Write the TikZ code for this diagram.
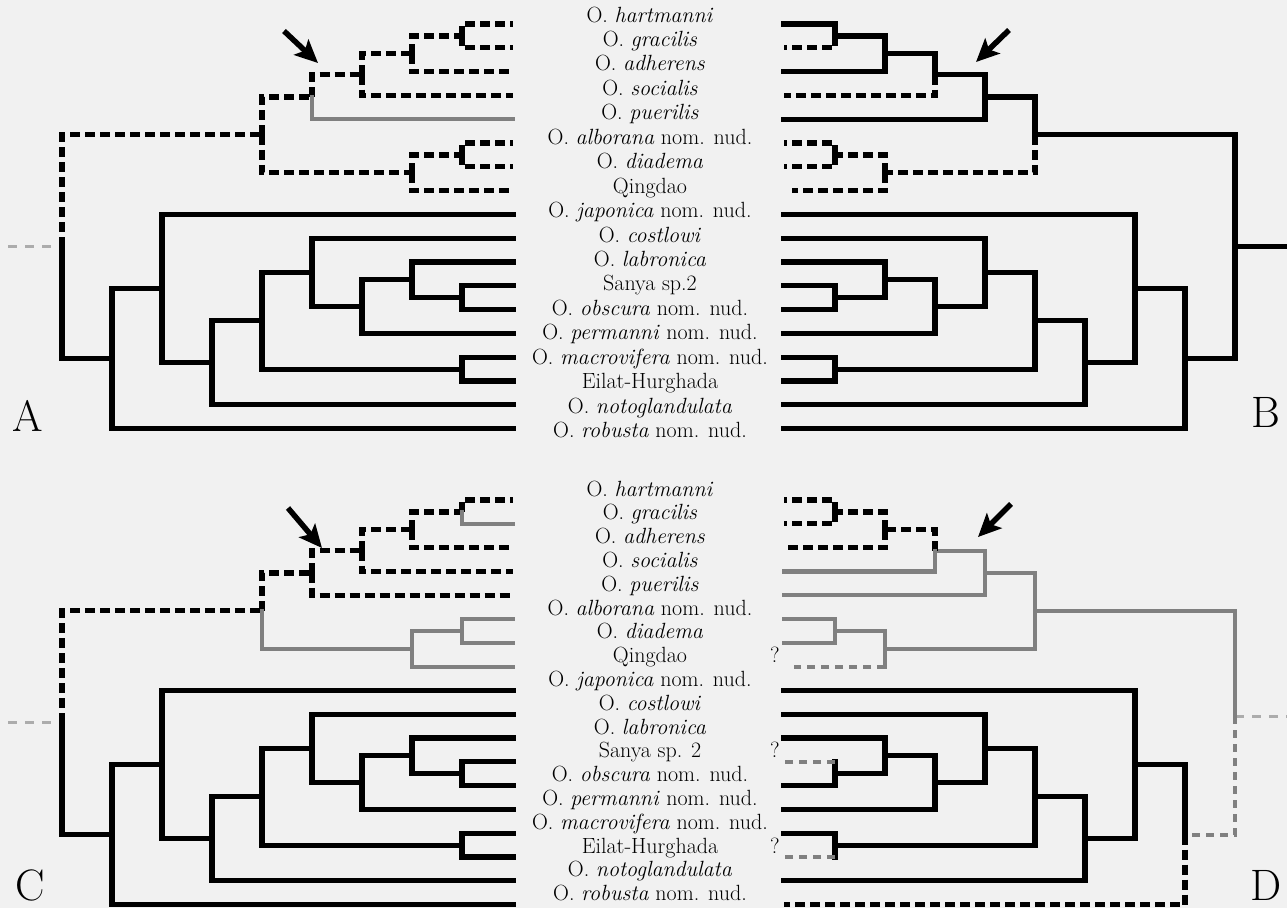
\documentclass[tikz,border=0pt]{standalone}
\usepackage{fontspec}
\usetikzlibrary{arrows.meta}
\definecolor{bgc}{RGB}{241,241,241}
\definecolor{gline}{RGB}{128,128,128}
\definecolor{gstem}{RGB}{172,172,172}
\tikzset{
 blk/.style={line width=5.2pt, draw=black, line cap=rect},
 dsh/.style={line width=5.2pt, draw=black, dash pattern=on 10pt off 5pt},
 gry/.style={line width=4.2pt, draw=gline, line cap=rect},
 gdsh/.style={line width=4.2pt, draw=gline, dash pattern=on 8pt off 6pt},
 stemline/.style={line width=3pt, draw=gstem, dash pattern=on 9pt off 8pt},
 bigarr/.style={line width=5.5pt, draw=black, -{Stealth[length=23pt,width=21pt,inset=5pt]}},
 lab/.style={font=\fontsize{22}{24}\selectfont, anchor=base, inner sep=0pt},
 letter/.style={font=\fontsize{44}{50}\selectfont, inner sep=0pt},
}
\newcommand\TreeCoords[2]{%
 \coordinate (#1l0) at (#2 513,24.0);
 \coordinate (#1l1) at (#2 513,47.8);
 \coordinate (#1l2) at (#2 513,71.6);
 \coordinate (#1l3) at (#2 513,95.4);
 \coordinate (#1l4) at (#2 513,119.2);
 \coordinate (#1l5) at (#2 513,143.0);
 \coordinate (#1l6) at (#2 513,166.8);
 \coordinate (#1l7) at (#2 513,190.6);
 \coordinate (#1l8) at (#2 513,214.4);
 \coordinate (#1l9) at (#2 513,238.2);
 \coordinate (#1l10) at (#2 513,262.0);
 \coordinate (#1l11) at (#2 513,285.8);
 \coordinate (#1l12) at (#2 513,309.6);
 \coordinate (#1l13) at (#2 513,333.4);
 \coordinate (#1l14) at (#2 513,357.2);
 \coordinate (#1l15) at (#2 513,381.0);
 \coordinate (#1l16) at (#2 513,404.8);
 \coordinate (#1l17) at (#2 513,428.6);
 \coordinate (#1n01) at (#2 462,35.9);
 \coordinate (#1n012) at (#2 412,53.75);
 \coordinate (#1n0123) at (#2 362,74.6);
 \coordinate (#1n01234) at (#2 312,96.9);
 \coordinate (#1n56) at (#2 462,154.9);
 \coordinate (#1n567) at (#2 412,172.75);
 \coordinate (#1nU) at (#2 262,134.8);
 \coordinate (#1n1112) at (#2 462,297.7);
 \coordinate (#1n1012) at (#2 412,279.85);
 \coordinate (#1n1013) at (#2 362,306.6);
 \coordinate (#1n913) at (#2 312,272.4);
 \coordinate (#1n1415) at (#2 462,369.1);
 \coordinate (#1n915) at (#2 262,320.75);
 \coordinate (#1n916) at (#2 212,362.8);
 \coordinate (#1n816) at (#2 162,288.6);
 \coordinate (#1n817) at (#2 112,358.6);
 \coordinate (#1root) at (#2 62,246.7);
}
\newcommand\LowerSolid[1]{%
 \draw[blk] (#1n817) |- (#1n816);
 \draw[blk] (#1n816) |- (#1l8);
 \draw[blk] (#1n816) |- (#1n916);
 \draw[blk] (#1n916) |- (#1n915);
 \draw[blk] (#1n916) |- (#1l16);
 \draw[blk] (#1n915) |- (#1n913);
 \draw[blk] (#1n915) |- (#1n1415);
 \draw[blk] (#1n913) |- (#1l9);
 \draw[blk] (#1n913) |- (#1n1013);
 \draw[blk] (#1n1013) |- (#1n1012);
 \draw[blk] (#1n1013) |- (#1l13);
 \draw[blk] (#1n1012) |- (#1l10);
 \draw[blk] (#1n1012) |- (#1n1112);
 \draw[blk] (#1n1112) |- (#1l12);
 \draw[blk] (#1n1415) |- (#1l14);
}
% #1 prefix, #2 Sanya text, #3 first baseline, #4 row step
\newcommand\TaxonLabels[4]{%
 \node[lab] (#1t0) at (650,{#3+0*#4}) {O. \textit{hartmanni}};
 \node[lab] (#1t1) at (650,{#3+1*#4}) {O. \textit{gracilis}};
 \node[lab] (#1t2) at (650,{#3+2*#4}) {O. \textit{adherens}};
 \node[lab] (#1t3) at (650,{#3+3*#4}) {O. \textit{socialis}};
 \node[lab] (#1t4) at (650,{#3+4*#4}) {O. \textit{puerilis}};
 \node[lab] (#1t5) at (650,{#3+5*#4}) {O. \textit{alborana} nom. nud.};
 \node[lab] (#1t6) at (650,{#3+6*#4}) {O. \textit{diadema}};
 \node[lab] (#1t7) at (650,{#3+7*#4}) {Qingdao};
 \node[lab] (#1t8) at (650,{#3+8*#4}) {O. \textit{japonica} nom. nud.};
 \node[lab] (#1t9) at (650,{#3+9*#4}) {O. \textit{costlowi}};
 \node[lab] (#1t10) at (650,{#3+10*#4}) {O. \textit{labronica}};
 \node[lab] (#1t11) at (650,{#3+11*#4}) {#2};
 \node[lab] (#1t12) at (650,{#3+12*#4}) {O. \textit{obscura} nom. nud.};
 \node[lab] (#1t13) at (650,{#3+13*#4}) {O. \textit{permanni} nom. nud.};
 \node[lab] (#1t14) at (650,{#3+14*#4}) {O. \textit{macrovifera} nom. nud.};
 \node[lab] (#1t15) at (650,{#3+15*#4}) {Eilat-Hurghada};
 \node[lab] (#1t16) at (650,{#3+16*#4}) {O. \textit{notoglandulata}};
 \node[lab] (#1t17) at (650,{#3+17*#4}) {O. \textit{robusta} nom. nud.};
}
\begin{document}
\begin{tikzpicture}[x=1pt,y=-1pt]
\fill[bgc] (0,0) rectangle (1287,908);
\useasboundingbox (0,0) rectangle (1287,908);

% ================= TOP: A and B =================
\begin{scope}
\TreeCoords{a}{0+}
\TreeCoords{b}{1297-}
\coordinate (bl7) at (792,190.6);
\coordinate (astem) at (8,246.7);
\coordinate (bstem) at (1292,246.7);
\coordinate (aarT) at (284,31);
\coordinate (aarH) at (318,63);
\coordinate (barT) at (1009,30);
\coordinate (barH) at (976,62);

\TaxonLabels{top}{Sanya sp.2}{22}{24.45}

% stem A
\draw[stemline] (astem) -- (aroot);
% tree A
\draw[dsh] (aroot) |- (anU);
\draw[blk] (aroot) |- (an817);
\draw[dsh] (anU) |- (an01234);
\draw[dsh] (anU) |- (an567);
\draw[dsh] (an01234) |- (an0123);
\draw[gry] (an01234) |- (al4);
\draw[dsh] (an0123) |- (an012);
\draw[dsh] (an0123) |- (al3);
\draw[dsh] (an012) |- (an01);
\draw[dsh] (an012) |- (al2);
\draw[dsh] (an01) |- (al0);
\draw[dsh] (an01) |- (al1);
\draw[dsh] (an567) |- (an56);
\draw[dsh] (an567) |- (al7);
\draw[dsh] (an56) |- (al5);
\draw[dsh] (an56) |- (al6);
\LowerSolid{a}
\draw[blk] (an817) |- (al17);
\draw[blk] (an1112) |- (al11);
\draw[blk] (an1415) |- (al15);

% tree B
\draw[blk] (broot) -- (bstem);
\draw[blk] (broot) |- (bnU);
\draw[blk] (broot) |- (bn817);
\draw[blk] (bnU) |- (bn01234);
\draw[dsh] (bnU) |- (bn567);
\draw[blk] (bn01234) |- (bn0123);
\draw[blk] (bn01234) |- (bl4);
\draw[blk] (bn0123) |- (bn012);
\draw[dsh] (bn0123) |- (bl3);
\draw[blk] (bn012) |- (bn01);
\draw[blk] (bn012) |- (bl2);
\draw[blk] (bn01) |- (bl0);
\draw[dsh] (bn01) |- (bl1);
\draw[dsh] (bn567) |- (bn56);
\draw[dsh] (bn567) |- (bl7);
\draw[dsh] (bn56) |- (bl5);
\draw[dsh] (bn56) |- (bl6);
\LowerSolid{b}
\draw[blk] (bn817) |- (bl17);
\draw[blk] (bn1112) |- (bl11);
\draw[blk] (bn1415) |- (bl15);

\draw[bigarr] (aarT) -- (aarH);
\draw[bigarr] (barT) -- (barH);
\node[letter] (labA) at (28,416) {A};
\node[letter] (labB) at (1266,412) {B};
\end{scope}

% ================= BOTTOM: C and D =================
\begin{scope}[shift={(0,476)}]
\TreeCoords{c}{0+}
\TreeCoords{d}{1297-}
\coordinate (dl7) at (794,190.6);
\coordinate (droot) at (1235,240);
\coordinate (cstem) at (8,246.7);
\coordinate (dstem) at (1292,240);
\coordinate (carT) at (288,32);
\coordinate (carH) at (322,72);
\coordinate (darT) at (1011,28);
\coordinate (darH) at (978,61);

\TaxonLabels{bot}{Sanya sp. 2}{20}{23.8}
\node[lab] (dq7) at (775,{20+7*23.8}) {?};
\node[lab] (dq11) at (775,{20+11*23.8}) {?};
\node[lab] (dq15) at (775,{20+15*23.8}) {?};

% stems
\draw[stemline] (cstem) -- (croot);
\draw[stemline] (droot) -- (dstem);
% tree C
\draw[dsh] (croot) |- (cnU);
\draw[blk] (croot) |- (cn817);
\draw[dsh] (cnU) |- (cn01234);
\draw[gry] (cnU) |- (cn567);
\draw[dsh] (cn01234) |- (cn0123);
\draw[dsh] (cn01234) |- (cl4);
\draw[dsh] (cn0123) |- (cn012);
\draw[dsh] (cn0123) |- (cl3);
\draw[dsh] (cn012) |- (cn01);
\draw[dsh] (cn012) |- (cl2);
\draw[dsh] (cn01) |- (cl0);
\draw[gry] (cn01) |- (cl1);
\draw[gry] (cn567) |- (cn56);
\draw[gry] (cn567) |- (cl7);
\draw[gry] (cn56) |- (cl5);
\draw[gry] (cn56) |- (cl6);
\LowerSolid{c}
\draw[blk] (cn817) |- (cl17);
\draw[blk] (cn1112) |- (cl11);
\draw[blk] (cn1415) |- (cl15);

% tree D
\draw[gry] (droot) |- (dnU);
\draw[gdsh] (droot) |- (dn817);
\draw[gry] (dnU) |- (dn01234);
\draw[gry] (dnU) |- (dn567);
\draw[gry] (dn01234) |- (dn0123);
\draw[gry] (dn01234) |- (dl4);
\draw[dsh] (dn0123) |- (dn012);
\draw[gry] (dn0123) |- (dl3);
\draw[dsh] (dn012) |- (dn01);
\draw[dsh] (dn012) |- (dl2);
\draw[dsh] (dn01) |- (dl0);
\draw[dsh] (dn01) |- (dl1);
\draw[gry] (dn567) |- (dn56);
\draw[gry] (dn567) -- (dn567 |- dl7);
\draw[gdsh] (dn567 |- dl7) -- (dl7);
\draw[gry] (dn56) |- (dl5);
\draw[gry] (dn56) |- (dl6);
\LowerSolid{d}
\draw[dsh] (dn817) |- (dl17);
\draw[blk] (dn1112) -- (dn1112 |- dl11);
\draw[gdsh] (dn1112 |- dl11) -- (dl11);
\draw[blk] (dn1415) -- (dn1415 |- dl15);
\draw[gdsh] (dn1415 |- dl15) -- (dl15);

\draw[bigarr] (carT) -- (carH);
\draw[bigarr] (darT) -- (darH);
\node[letter] (labC) at (30,409) {C};
\node[letter] (labD) at (1266,409) {D};
\end{scope}
\end{tikzpicture}
\end{document}
